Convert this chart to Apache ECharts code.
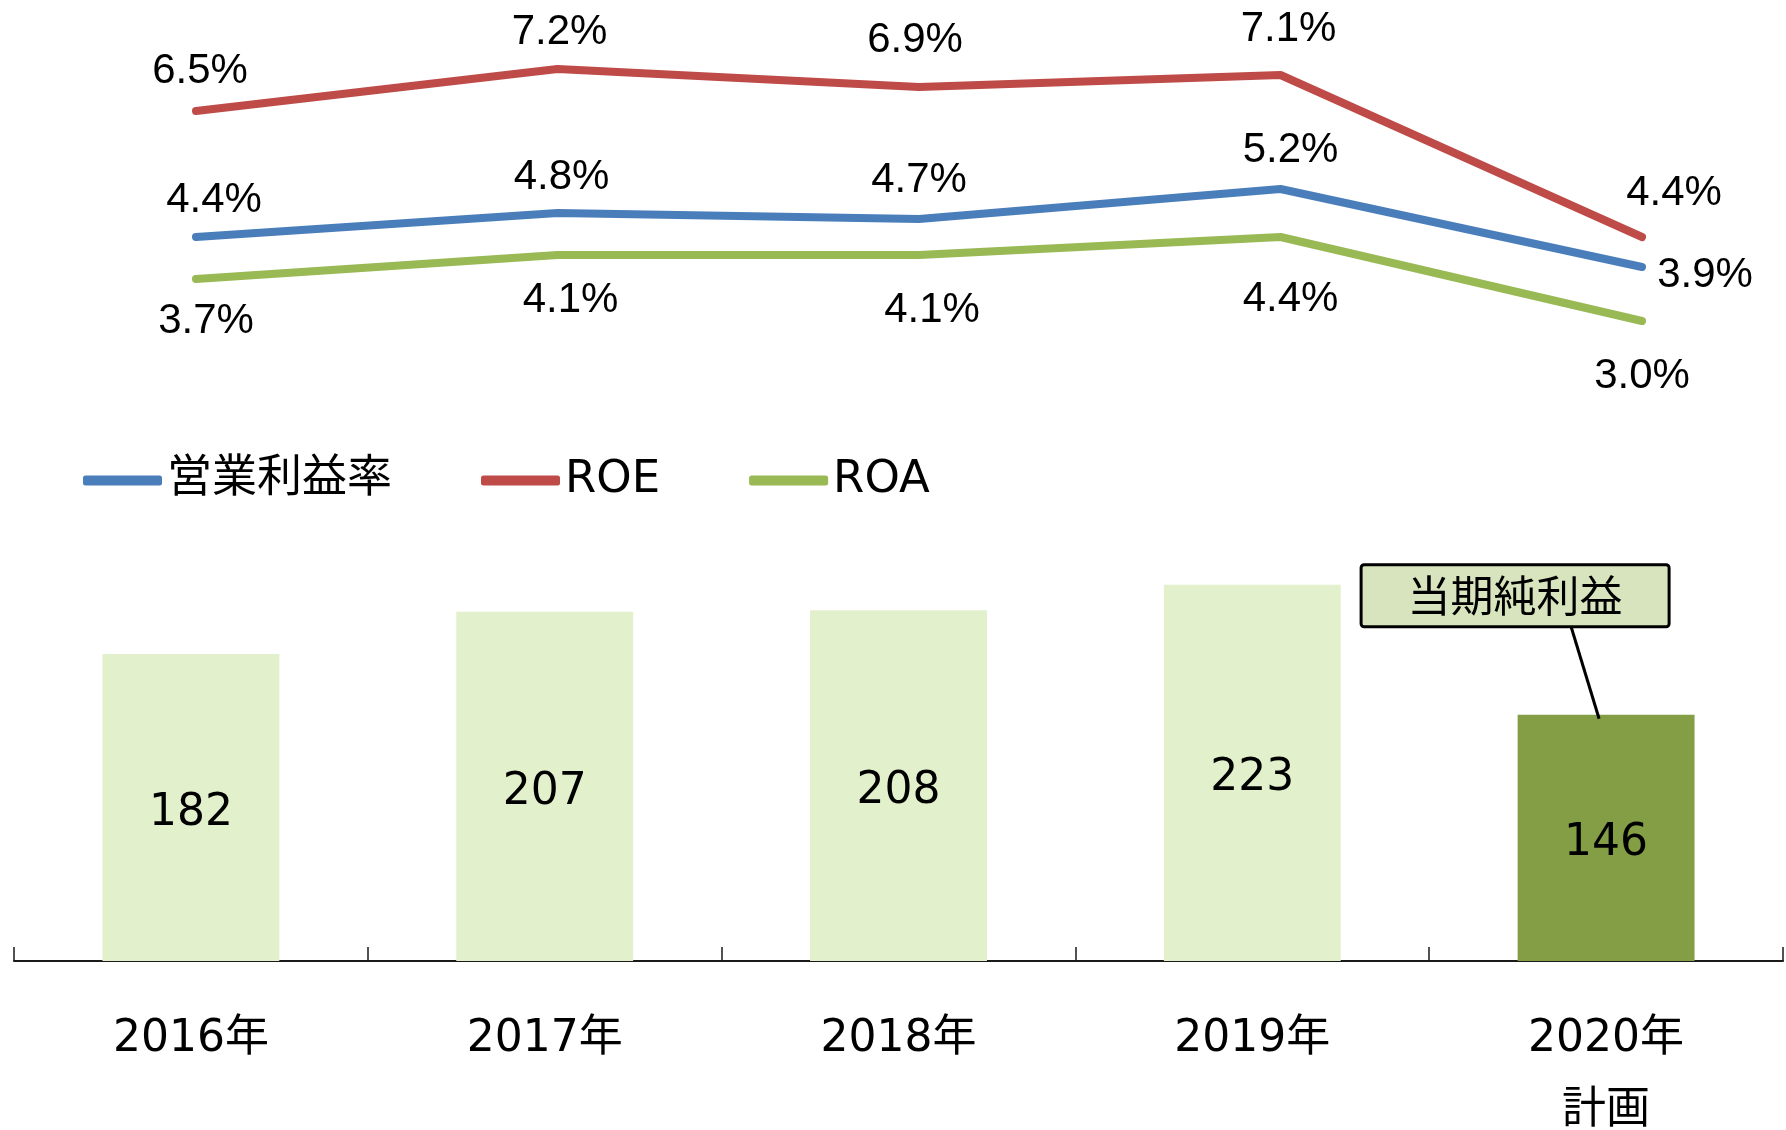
<!DOCTYPE html>
<html lang="ja">
<head>
    <meta charset="UTF-8">
    <title>ECharts</title>
    <script src="https://cdn.jsdelivr.net/npm/echarts@6/dist/echarts.min.js"></script>
    <style>
        * {
            margin: 0;
            padding: 0
        }

        html, body {
            width: 100%;
            height: 100%;
            background: #fff;
        }
    </style>
</head>
<body>
<div id="main" style="width: 1786px;height:1130px;"></div>
<script type="text/javascript">
    // データ
    var categories = ['2016年', '2017年', '2018年', '2019年', '2020年\n計画'];
    var opMargin = [4.4, 4.8, 4.7, 5.2, 3.9];     // 営業利益率 (%)
    var roe = [6.5, 7.2, 6.9, 7.1, 4.4];          // ROE (%)
    var roa = [3.7, 4.1, 4.1, 4.4, 3.0];          // ROA (%)
    var netIncome = [182, 207, 208, 223, 146];    // 当期純利益

    // ラベルの位置調整 (点からのずれ)
    var opOffset = [[18, -37], [4, -36], [0, -39], [10, -39], [63, 8]];
    var roeOffset = [[4, -40], [2, -37], [-4, -47], [8, -46], [32, -44]];
    var roaOffset = [[10, 42], [13, 45], [13, 55], [10, 62], [0, 55]];

    var pctFont = '"Liberation Sans", Arial, sans-serif';
    var jpFont = '"DejaVu Sans", "Noto Sans CJK JP", sans-serif';

    function lineData(values, offsets) {
        var arr = [];
        for (var i = 0; i < values.length; i++) {
            arr.push({value: values[i], label: {offset: offsets[i]}});
        }
        return arr;
    }

    function lineSeries(name, color, values, offsets) {
        return {
            name: name,
            type: 'line',
            xAxisIndex: 1,
            yAxisIndex: 1,
            symbol: 'circle',
            symbolSize: 2,
            itemStyle: {color: color},
            lineStyle: {color: color, width: 8, cap: 'round', join: 'round'},
            label: {
                show: true,
                position: 'inside',
                fontFamily: pctFont,
                fontSize: 42,
                color: '#000',
                formatter: function (p) {
                    return p.value.toFixed(1) + '%';
                }
            },
            data: lineData(values, offsets),
            z: 3
        };
    }

    var myChart = echarts.init(document.getElementById('main'));

    var option = {
        animation: false,
        backgroundColor: '#fff',
        legend: {
            left: 78,
            top: 453,
            icon: 'roundRect',
            itemWidth: 79,
            itemHeight: 10,
            itemGap: 89,
            textStyle: {fontFamily: jpFont, fontSize: 45, color: '#000'},
            data: ['営業利益率', 'ROE', 'ROA']
        },
        grid: [
            {left: 14, right: 3, top: 455, bottom: 169, containLabel: false, outerBoundsMode: 'none'},
            {left: 196, right: 144, top: 21, height: 360, containLabel: false, outerBoundsMode: 'none'}
        ],
        xAxis: [
            {
                type: 'category',
                gridIndex: 0,
                data: categories,
                axisLine: {show: true, lineStyle: {color: '#1a1a1a', width: 2}},
                axisTick: {show: true, inside: true, length: 14, lineStyle: {color: '#1a1a1a', width: 1.5}},
                axisLabel: {
                    margin: 43,
                    fontFamily: jpFont,
                    fontSize: 44,
                    lineHeight: 72,
                    color: '#000'
                }
            },
            {
                type: 'category',
                gridIndex: 1,
                data: categories,
                boundaryGap: false,
                show: false
            }
        ],
        yAxis: [
            {type: 'value', gridIndex: 0, min: 0, max: 300, show: false},
            {type: 'value', gridIndex: 1, min: 2, max: 8, show: false}
        ],
        series: [
            {
                name: '当期純利益',
                type: 'bar',
                barWidth: '50%',
                itemStyle: {
                    color: function (p) {
                        return p.dataIndex === 4 ? '#839e44' : '#e2f0cb';
                    }
                },
                label: {
                    show: true,
                    position: 'inside',
                    offset: [0, 6],
                    fontFamily: jpFont,
                    fontSize: 44,
                    color: '#000'
                },
                data: netIncome,
                z: 1
            },
            lineSeries('営業利益率', '#4a7ebb', opMargin, opOffset),
            lineSeries('ROE', '#be4b48', roe, roeOffset),
            lineSeries('ROA', '#98b954', roa, roaOffset)
        ]
    };

    myChart.setOption(option);

    // 「当期純利益」の吹き出し (2020年の棒の上端を基準に配置)
    var top2020 = myChart.convertToPixel({xAxisIndex: 0, yAxisIndex: 0}, [categories[4], netIncome[4]]);
    var bx = top2020[0] - 245, by = top2020[1] - 150;
    myChart.setOption({
        graphic: [
            {
                type: 'line',
                shape: {x1: top2020[0] - 35, y1: top2020[1] - 88, x2: top2020[0] - 7, y2: top2020[1] + 4},
                style: {stroke: '#000', lineWidth: 3},
                z: 10
            },
            {
                type: 'rect',
                shape: {x: bx, y: by, width: 308, height: 62, r: 3},
                style: {fill: '#d7e4bd', stroke: '#000', lineWidth: 3},
                z: 11
            },
            {
                type: 'text',
                x: bx + 154,
                y: by + 36,
                style: {
                    text: '当期純利益',
                    fontFamily: jpFont,
                    fontSize: 43,
                    fill: '#000',
                    align: 'center',
                    verticalAlign: 'middle'
                },
                z: 12
            }
        ]
    });
</script>
</body>
</html>
